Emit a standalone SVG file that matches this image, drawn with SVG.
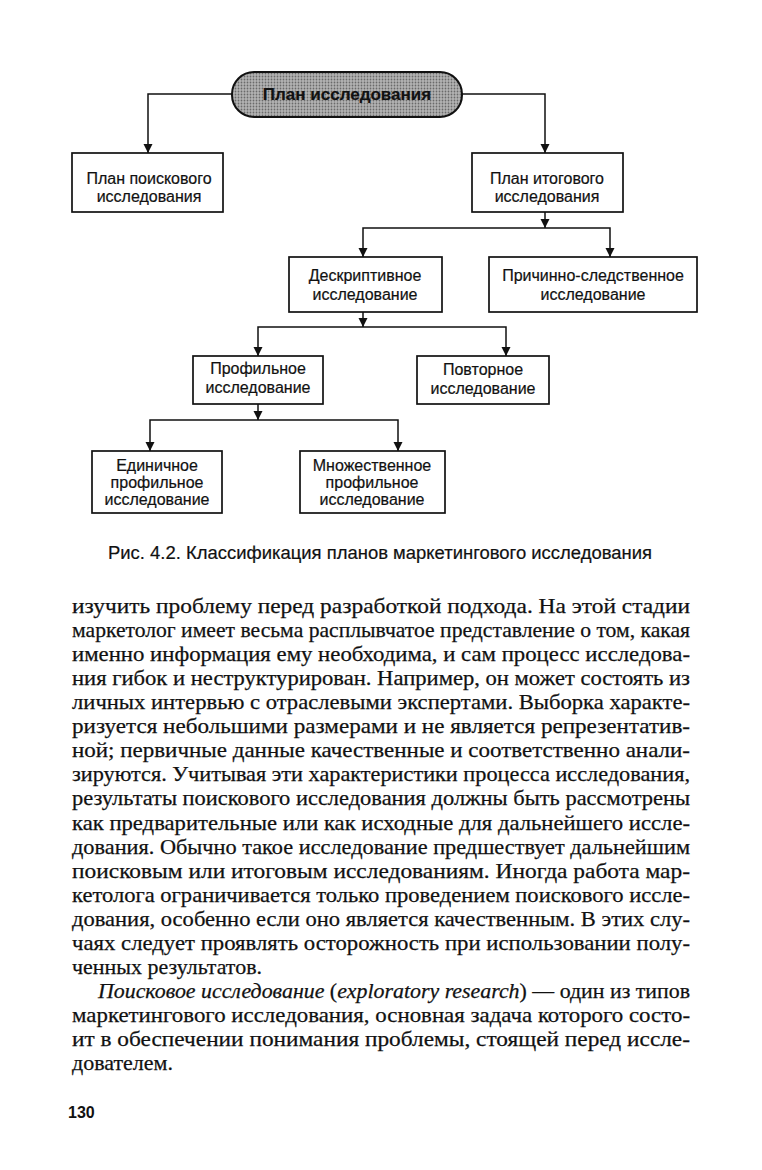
<svg xmlns="http://www.w3.org/2000/svg" width="762" height="1170" viewBox="0 0 762 1170">
<style>
.box{fill:#fff;stroke:#111;stroke-width:1.7}
.lbl{font-family:"Liberation Sans",Arial,sans-serif;font-size:16px;fill:#111;stroke:#111;stroke-width:0.2;text-anchor:middle}
.con{fill:none;stroke:#111;stroke-width:1.5}
.body{font-family:"Liberation Serif","Times New Roman",serif;font-size:21.5px;fill:#111;stroke:#111;stroke-width:0.25}
.it{font-style:italic}
</style>
<defs>
<marker id="ah" viewBox="0 0 10 10" refX="10" refY="5" markerWidth="9" markerHeight="10" markerUnits="userSpaceOnUse" orient="auto">
<path d="M0,0 L10,5 L0,10 z" fill="#111"/>
</marker>
<pattern id="ht" width="3" height="3" patternUnits="userSpaceOnUse">
<rect width="3" height="3" fill="#b4b4b4"/>
<circle cx="1.5" cy="1.5" r="0.9" fill="#6a6a6a"/>
</pattern>
</defs>
<rect width="762" height="1170" fill="#fff"/>

<g id="connectors">
<path class="con" d="M232,94 H148 V153" marker-end="url(#ah)"/>
<path class="con" d="M462,94 H545 V153" marker-end="url(#ah)"/>
<path class="con" d="M545,212 V228" marker-end="url(#ah)"/>
<path class="con" d="M545,228 H363 V257" marker-end="url(#ah)"/>
<path class="con" d="M545,228 H610 V257" marker-end="url(#ah)"/>
<path class="con" d="M363,312 V327" marker-end="url(#ah)"/>
<path class="con" d="M363,327 H258 V356" marker-end="url(#ah)"/>
<path class="con" d="M363,327 H506 V356" marker-end="url(#ah)"/>
<path class="con" d="M258,404 V420" marker-end="url(#ah)"/>
<path class="con" d="M258,420 H150 V451" marker-end="url(#ah)"/>
<path class="con" d="M258,420 H398 V451" marker-end="url(#ah)"/>
</g>

<g id="root">
<rect x="232" y="72" width="230" height="45" rx="22" fill="url(#ht)" stroke="#111" stroke-width="2"/>
<text x="347" y="100" class="lbl" style="font-weight:bold;font-size:17px">План исследования</text>
</g>
<g id="exploratory">
<rect class="box" x="72" y="153" width="151" height="59"/>
<text class="lbl" x="149" y="184">План поискового</text>
<text class="lbl" x="149" y="202">исследования</text>
</g>
<g id="conclusive">
<rect class="box" x="472" y="153" width="151" height="59"/>
<text class="lbl" x="547" y="184">План итогового</text>
<text class="lbl" x="547" y="202">исследования</text>
</g>
<g id="descriptive">
<rect class="box" x="289" y="257" width="153" height="55"/>
<text class="lbl" x="365" y="281">Дескриптивное</text>
<text class="lbl" x="365" y="300">исследование</text>
</g>
<g id="causal">
<rect class="box" x="489" y="257" width="208" height="55"/>
<text class="lbl" x="593" y="281">Причинно-следственное</text>
<text class="lbl" x="593" y="300">исследование</text>
</g>
<g id="profile">
<rect class="box" x="193" y="356" width="130" height="48"/>
<text class="lbl" x="258" y="374">Профильное</text>
<text class="lbl" x="258" y="393">исследование</text>
</g>
<g id="repeated">
<rect class="box" x="417" y="356" width="132" height="48"/>
<text class="lbl" x="483" y="375">Повторное</text>
<text class="lbl" x="483" y="394">исследование</text>
</g>
<g id="single">
<rect class="box" x="92" y="451" width="130" height="62"/>
<text class="lbl" x="157" y="471">Единичное</text>
<text class="lbl" x="157" y="488">профильное</text>
<text class="lbl" x="157" y="505">исследование</text>
</g>
<g id="multiple">
<rect class="box" x="300" y="451" width="145" height="62"/>
<text class="lbl" x="372" y="471">Множественное</text>
<text class="lbl" x="372" y="488">профильное</text>
<text class="lbl" x="372" y="505">исследование</text>
</g>

<text x="108" y="559" textLength="544" lengthAdjust="spacingAndGlyphs" style="font-family:'Liberation Sans',Arial,sans-serif;font-size:17.5px;fill:#111;stroke:#111;stroke-width:0.2">Рис. 4.2. Классификация планов маркетингового исследования</text>

<g id="bodytext" class="body">
<text x="72" y="613" textLength="618" lengthAdjust="spacingAndGlyphs">изучить проблему перед разработкой подхода. На этой стадии</text>
<text x="72" y="637" textLength="618" lengthAdjust="spacingAndGlyphs">маркетолог имеет весьма расплывчатое представление о том, какая</text>
<text x="72" y="661" textLength="618" lengthAdjust="spacingAndGlyphs">именно информация ему необходима, и сам процесс исследова-</text>
<text x="72" y="685" textLength="618" lengthAdjust="spacingAndGlyphs">ния гибок и неструктурирован. Например, он может состоять из</text>
<text x="72" y="709" textLength="618" lengthAdjust="spacingAndGlyphs">личных интервью с отраслевыми экспертами. Выборка характе-</text>
<text x="72" y="733" textLength="618" lengthAdjust="spacingAndGlyphs">ризуется небольшими размерами и не является репрезентатив-</text>
<text x="72" y="757" textLength="618" lengthAdjust="spacingAndGlyphs">ной; первичные данные качественные и соответственно анали-</text>
<text x="72" y="781" textLength="618" lengthAdjust="spacingAndGlyphs">зируются. Учитывая эти характеристики процесса исследования,</text>
<text x="72" y="805" textLength="618" lengthAdjust="spacingAndGlyphs">результаты поискового исследования должны быть рассмотрены</text>
<text x="72" y="830" textLength="618" lengthAdjust="spacingAndGlyphs">как предварительные или как исходные для дальнейшего иссле-</text>
<text x="72" y="854" textLength="618" lengthAdjust="spacingAndGlyphs">дования. Обычно такое исследование предшествует дальнейшим</text>
<text x="72" y="878" textLength="618" lengthAdjust="spacingAndGlyphs">поисковым или итоговым исследованиям. Иногда работа мар-</text>
<text x="72" y="902" textLength="618" lengthAdjust="spacingAndGlyphs">кетолога ограничивается только проведением поискового иссле-</text>
<text x="72" y="926" textLength="618" lengthAdjust="spacingAndGlyphs">дования, особенно если оно является качественным. В этих слу-</text>
<text x="72" y="950" textLength="618" lengthAdjust="spacingAndGlyphs">чаях следует проявлять осторожность при использовании полу-</text>
<text x="72" y="974" textLength="190" lengthAdjust="spacingAndGlyphs">ченных результатов.</text>
<text x="98" y="998" textLength="592" lengthAdjust="spacingAndGlyphs"><tspan class="it">Поисковое исследование</tspan> (<tspan class="it">exploratory research</tspan>) — один из типов</text>
<text x="72" y="1022" textLength="618" lengthAdjust="spacingAndGlyphs">маркетингового исследования, основная задача которого состо-</text>
<text x="72" y="1046" textLength="618" lengthAdjust="spacingAndGlyphs">ит в обеспечении понимания проблемы, стоящей перед иссле-</text>
<text x="72" y="1070" textLength="101" lengthAdjust="spacingAndGlyphs">дователем.</text>
</g>

<text x="68" y="1118" style="font-family:'Liberation Sans',Arial,sans-serif;font-size:16px;font-weight:bold;fill:#111">130</text>
</svg>
